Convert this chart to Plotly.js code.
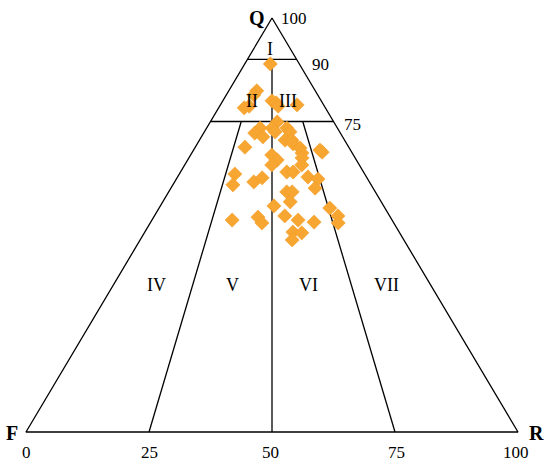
<!DOCTYPE html>
<html>
<head>
<meta charset="utf-8">
<script src="https://cdn.plot.ly/plotly-3.0.1.min.js"></script>
<style>html,body{margin:0;padding:0;background:#fff;}#chart{width:550px;height:467px;}</style>
</head>
<body>
<div id="chart"></div>
<script>
// Sample compositions (%): Q = quartz, F = feldspar, R = rock fragments
const Q = [88.9,82.4,81.4,78.7,78.3,80.0,79.5,78.7,79.0,74.9,73.4,72.2,71.3,73.4,72.5,73.4,72.5,70.5,70.5,69.6,68.6,67.4,66.2,64.5,67.6,68.8,66.9,65.7,64.5,62.8,62.8,62.3,59.7,60.4,61.4,61.6,61.1,58.9,58.0,58.0,55.6,54.6,54.1,52.2,50.5,51.2,51.9,50.5,52.2,51.2,50.7,48.3,48.1,46.4,68.1];
const F = [5.9,11.9,13.0,15.3,16.5,10.0,9.4,9.4,5.4,11.5,15.7,17.4,16.2,13.3,13.1,10.3,10.1,12.1,10.7,10.9,10.0,10.2,10.8,11.7,6.0,21.1,16.6,16.1,17.8,15.6,14.3,26.4,28.1,23.5,21.3,11.9,10.1,11.8,18.0,16.9,18.5,22.3,11.2,10.5,11.3,32.5,26.9,26.8,21.3,19.1,16.1,21.6,19.9,22.7,6.2];
const R = [5.2,5.7,5.6,6.0,5.2,10.0,11.1,11.9,15.6,13.6,10.9,10.4,12.5,13.3,14.4,16.3,17.4,17.4,18.8,19.5,21.4,22.4,23.0,23.8,26.4,10.1,16.5,18.2,17.7,21.6,22.9,11.3,12.2,16.1,17.3,26.5,28.8,29.3,24.0,25.1,25.9,23.1,34.7,37.3,38.2,16.3,21.2,22.7,26.5,29.7,33.2,30.1,32.0,30.9,25.7];

// Classification boundaries as ternary points [Q, F, R]
const boundaries = [
  [[100,0,0],[0,100,0],[0,0,100],[100,0,0]], // outline
  [[90,10,0],[90,0,10]],                    // Q = 90
  [[75,25,0],[75,0,25]],                    // Q = 75
  [[90,5,5],[0,50,50]],                     // F:R = 1:1
  [[75,18.75,6.25],[0,75,25]],              // F:R = 3:1
  [[75,6.25,18.75],[0,25,75]]               // F:R = 1:3
];
const baseTicks = ['0','25','50','75','100'];
const edgeTicks = ['100','90','75'];
const regions = ['I','II','III','IV','V','VI','VII'];

function toX(q,f,r){ const s=q+f+r; return (r + q/2)/s*100; }
function toY(q,f,r){ const s=q+f+r; return q/s*100; }

const traces = [];
boundaries.forEach(b => {
  traces.push({
    type:'scatter', mode:'lines',
    x: b.map(p=>toX(p[0],p[1],p[2])), y: b.map(p=>toY(p[0],p[1],p[2])),
    line:{color:'#000', width:1.3}, hoverinfo:'skip', showlegend:false
  });
});
traces.push({
  type:'scatter', mode:'markers',
  x: Q.map((q,i)=>toX(q,F[i],R[i])), y: Q.map((q,i)=>toY(q,F[i],R[i])),
  marker:{symbol:'diamond', size:11, color:'#F7A632', opacity:1,
          line:{color:'#F39A25', width:0.5}},
  showlegend:false
});

const serif = 'Liberation Serif, Times New Roman, serif';
const ann = [];
function txt(t, px, py, size, bold){
  ann.push({text: bold ? '<b>'+t+'</b>' : t, xref:'paper', yref:'paper',
    x: px/550, y: 1-py/467, xanchor:'center', yanchor:'middle', showarrow:false,
    font:{family:serif, size:size, color:'#000'}});
}
txt('Q',257,18,20,true); txt('F',12,433,20,true); txt('R',536,433,20,true);
const edgePos = [[294,19],[320,64],[352,124]];
edgeTicks.forEach((t,i)=>txt(t, edgePos[i][0], edgePos[i][1], 17));
const basePos = [26,149,270,396,516];
baseTicks.forEach((t,i)=>txt(t, basePos[i], 452, 17));
const regPos = [[270,49],[252,101],[288,101],[156,285],[232,285],[308,285],[386,285]];
regions.forEach((t,i)=>txt(t, regPos[i][0], regPos[i][1], 18));

const layout = {
  width:550, height:467, margin:{l:0,r:0,t:0,b:0},
  paper_bgcolor:'#fff', plot_bgcolor:'#fff',
  xaxis:{range:[-5.285,106.504], visible:false, fixedrange:true},
  yaxis:{range:[-8.454,104.348], visible:false, fixedrange:true},
  annotations: ann, showlegend:false
};
Plotly.newPlot('chart', traces, layout, {staticPlot:true, displayModeBar:false});
</script>
</body>
</html>
